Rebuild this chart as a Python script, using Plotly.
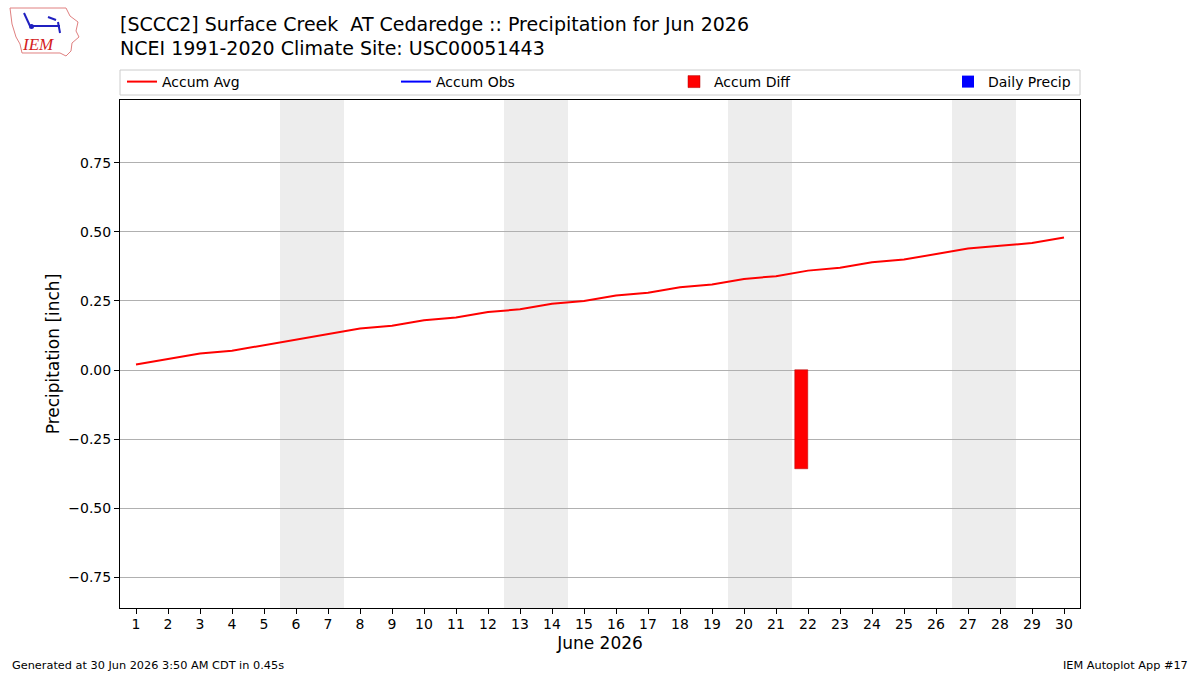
import plotly.graph_objects as go

days = list(range(1, 31))
accum_avg = [0.02, 0.04, 0.06, 0.07, 0.09, 0.11, 0.13, 0.15, 0.16, 0.18,
             0.19, 0.21, 0.22, 0.24, 0.25, 0.27, 0.28, 0.30, 0.31, 0.33,
             0.34, 0.36, 0.37, 0.39, 0.40, 0.42, 0.44, 0.45, 0.46, 0.48]
obs_days = [22]
accum_obs = [0.0]
accum_diff = [-0.36]
daily_precip = [0.0]
weekend_starts = [6, 13, 20, 27]
y_ticks = [-0.75, -0.5, -0.25, 0.0, 0.25, 0.5, 0.75]

FONT = "DejaVu Sans"
L, R, T, B = 120, 1080, 100, 608


def px(xp, yp):
    """pixel position -> paper coords (relative to plot area)"""
    return (xp - L) / (R - L), (B - yp) / (B - T)


fig = go.Figure()
fig.add_trace(go.Scatter(x=days, y=accum_avg, mode="lines", name="Accum Avg",
                         line=dict(color="#ff0000", width=2), legend="legend"))
fig.add_trace(go.Scatter(x=obs_days, y=accum_obs, mode="lines", name="Accum Obs",
                         line=dict(color="#0000ff", width=2), legend="legend2"))
fig.add_trace(go.Bar(x=obs_days, y=accum_diff, name="Accum Diff", width=0.4, offset=-0.4,
                     marker=dict(color="#ff0000", line=dict(color="#b00000", width=0.5)),
                     legend="legend3"))
fig.add_trace(go.Bar(x=obs_days, y=daily_precip, name="Daily Precip", width=0.4, offset=0,
                     marker=dict(color="#0000ff", line=dict(width=0)), legend="legend4"))

shapes = []
for s in weekend_starts:
    shapes.append(dict(type="rect", xref="x", yref="paper", x0=s - 0.5, x1=s + 1.5,
                       y0=0, y1=1, fillcolor="#ededed", line=dict(width=0), layer="below"))
lx0, ly0 = px(120, 95)
lx1, ly1 = px(1080, 70)
shapes.append(dict(type="rect", xref="paper", yref="paper", x0=lx0, x1=lx1, y0=ly0, y1=ly1,
                   line=dict(color="#cccccc", width=1), fillcolor="rgba(0,0,0,0)", layer="above"))

legy = px(0, 82)[1]


def leg(xpix):
    return dict(orientation="h", x=px(xpix, 0)[0], y=legy, xanchor="left", yanchor="middle",
                font=dict(size=14, family=FONT), bgcolor="rgba(0,0,0,0)", borderwidth=0)


fig.update_layout(
    width=1200, height=675,
    margin=dict(l=L, r=1200 - R, t=T, b=675 - B),
    paper_bgcolor="white", plot_bgcolor="white",
    font=dict(family=FONT, size=14, color="black"),
    showlegend=True,
    legend=leg(122), legend2=leg(396), legend3=leg(674), legend4=leg(948),
    barmode="overlay",
    bargap=0,
    shapes=shapes,
    xaxis=dict(range=[0.5, 30.5], tickmode="array", tickvals=days, ticktext=[str(d) for d in days],
               ticks="outside", ticklen=5, tickcolor="black", showgrid=False, zeroline=False,
               showline=True, linecolor="black", linewidth=1, mirror=True,
               title=dict(text="June 2026", font=dict(size=17, family=FONT), standoff=6),
               tickfont=dict(size=14), ticklabelstandoff=-2),
    yaxis=dict(range=[-0.862, 0.978], tickmode="array", tickvals=y_ticks,
               tickformat=".2f", ticks="outside", ticklen=5, tickcolor="black",
               showgrid=True, gridcolor="#b0b0b0", gridwidth=1, zeroline=False,
               showline=True, linecolor="black", linewidth=1, mirror=True,
               title=dict(text="Precipitation [inch]", font=dict(size=17, family=FONT), standoff=4),
               tickfont=dict(size=14)),
)


def ann(xp, yp, text, size, anchor="left", **kw):
    x, y = px(xp, yp)
    fig.add_annotation(x=x, y=y, xref="paper", yref="paper", xanchor=anchor, yanchor="middle",
                       showarrow=False, text=text, font=dict(size=size, family=kw.get("family", FONT),
                                                             color=kw.get("color", "black")))


ann(118, 24, "[SCCC2] Surface Creek  AT Cedaredge :: Precipitation for Jun 2026", 19)
ann(118, 48, "NCEI 1991-2020 Climate Site: USC00051443", 19)
ann(10, 665, "Generated at 30 Jun 2026 3:50 AM CDT in 0.45s", 11.3)
ann(1190, 665, "IEM Autoplot App #17", 11.3, anchor="right")
ann(38, 45, "<i>IEM</i>", 17, anchor="center", family="Liberation Serif", color="#d42020")

# logo: rough Iowa outline and weather-vane glyph
pts = [(10, 8), (66, 8), (70, 16), (78, 22), (76, 31), (79, 37), (72, 43), (71, 51),
       (66, 56), (60, 53), (22, 53), (20, 44), (16, 37), (12, 24)]
path = "M " + " L ".join(f"{px(a, b)[0]:.5f} {px(a, b)[1]:.5f}" for a, b in pts) + " Z"
fig.add_shape(type="path", xref="paper", yref="paper", path=path,
              line=dict(color="#e08080", width=1), fillcolor="rgba(0,0,0,0)")
for (a, b), (c, d) in [((31, 26), (60, 26)), ((24, 13), (30, 26)), ((58, 22), (60, 33)),
                       ((48, 17), (56, 20))]:
    x0, y0 = px(a, b)
    x1, y1 = px(c, d)
    fig.add_shape(type="line", xref="paper", yref="paper", x0=x0, y0=y0, x1=x1, y1=y1,
                  line=dict(color="#2020c0", width=2))
cx0, cy0 = px(29, 24)
cx1, cy1 = px(34, 29)
fig.add_shape(type="circle", xref="paper", yref="paper", x0=cx0, y0=cy0, x1=cx1, y1=cy1,
              fillcolor="#2020c0", line=dict(width=0))

fig.write_html("out.html")
